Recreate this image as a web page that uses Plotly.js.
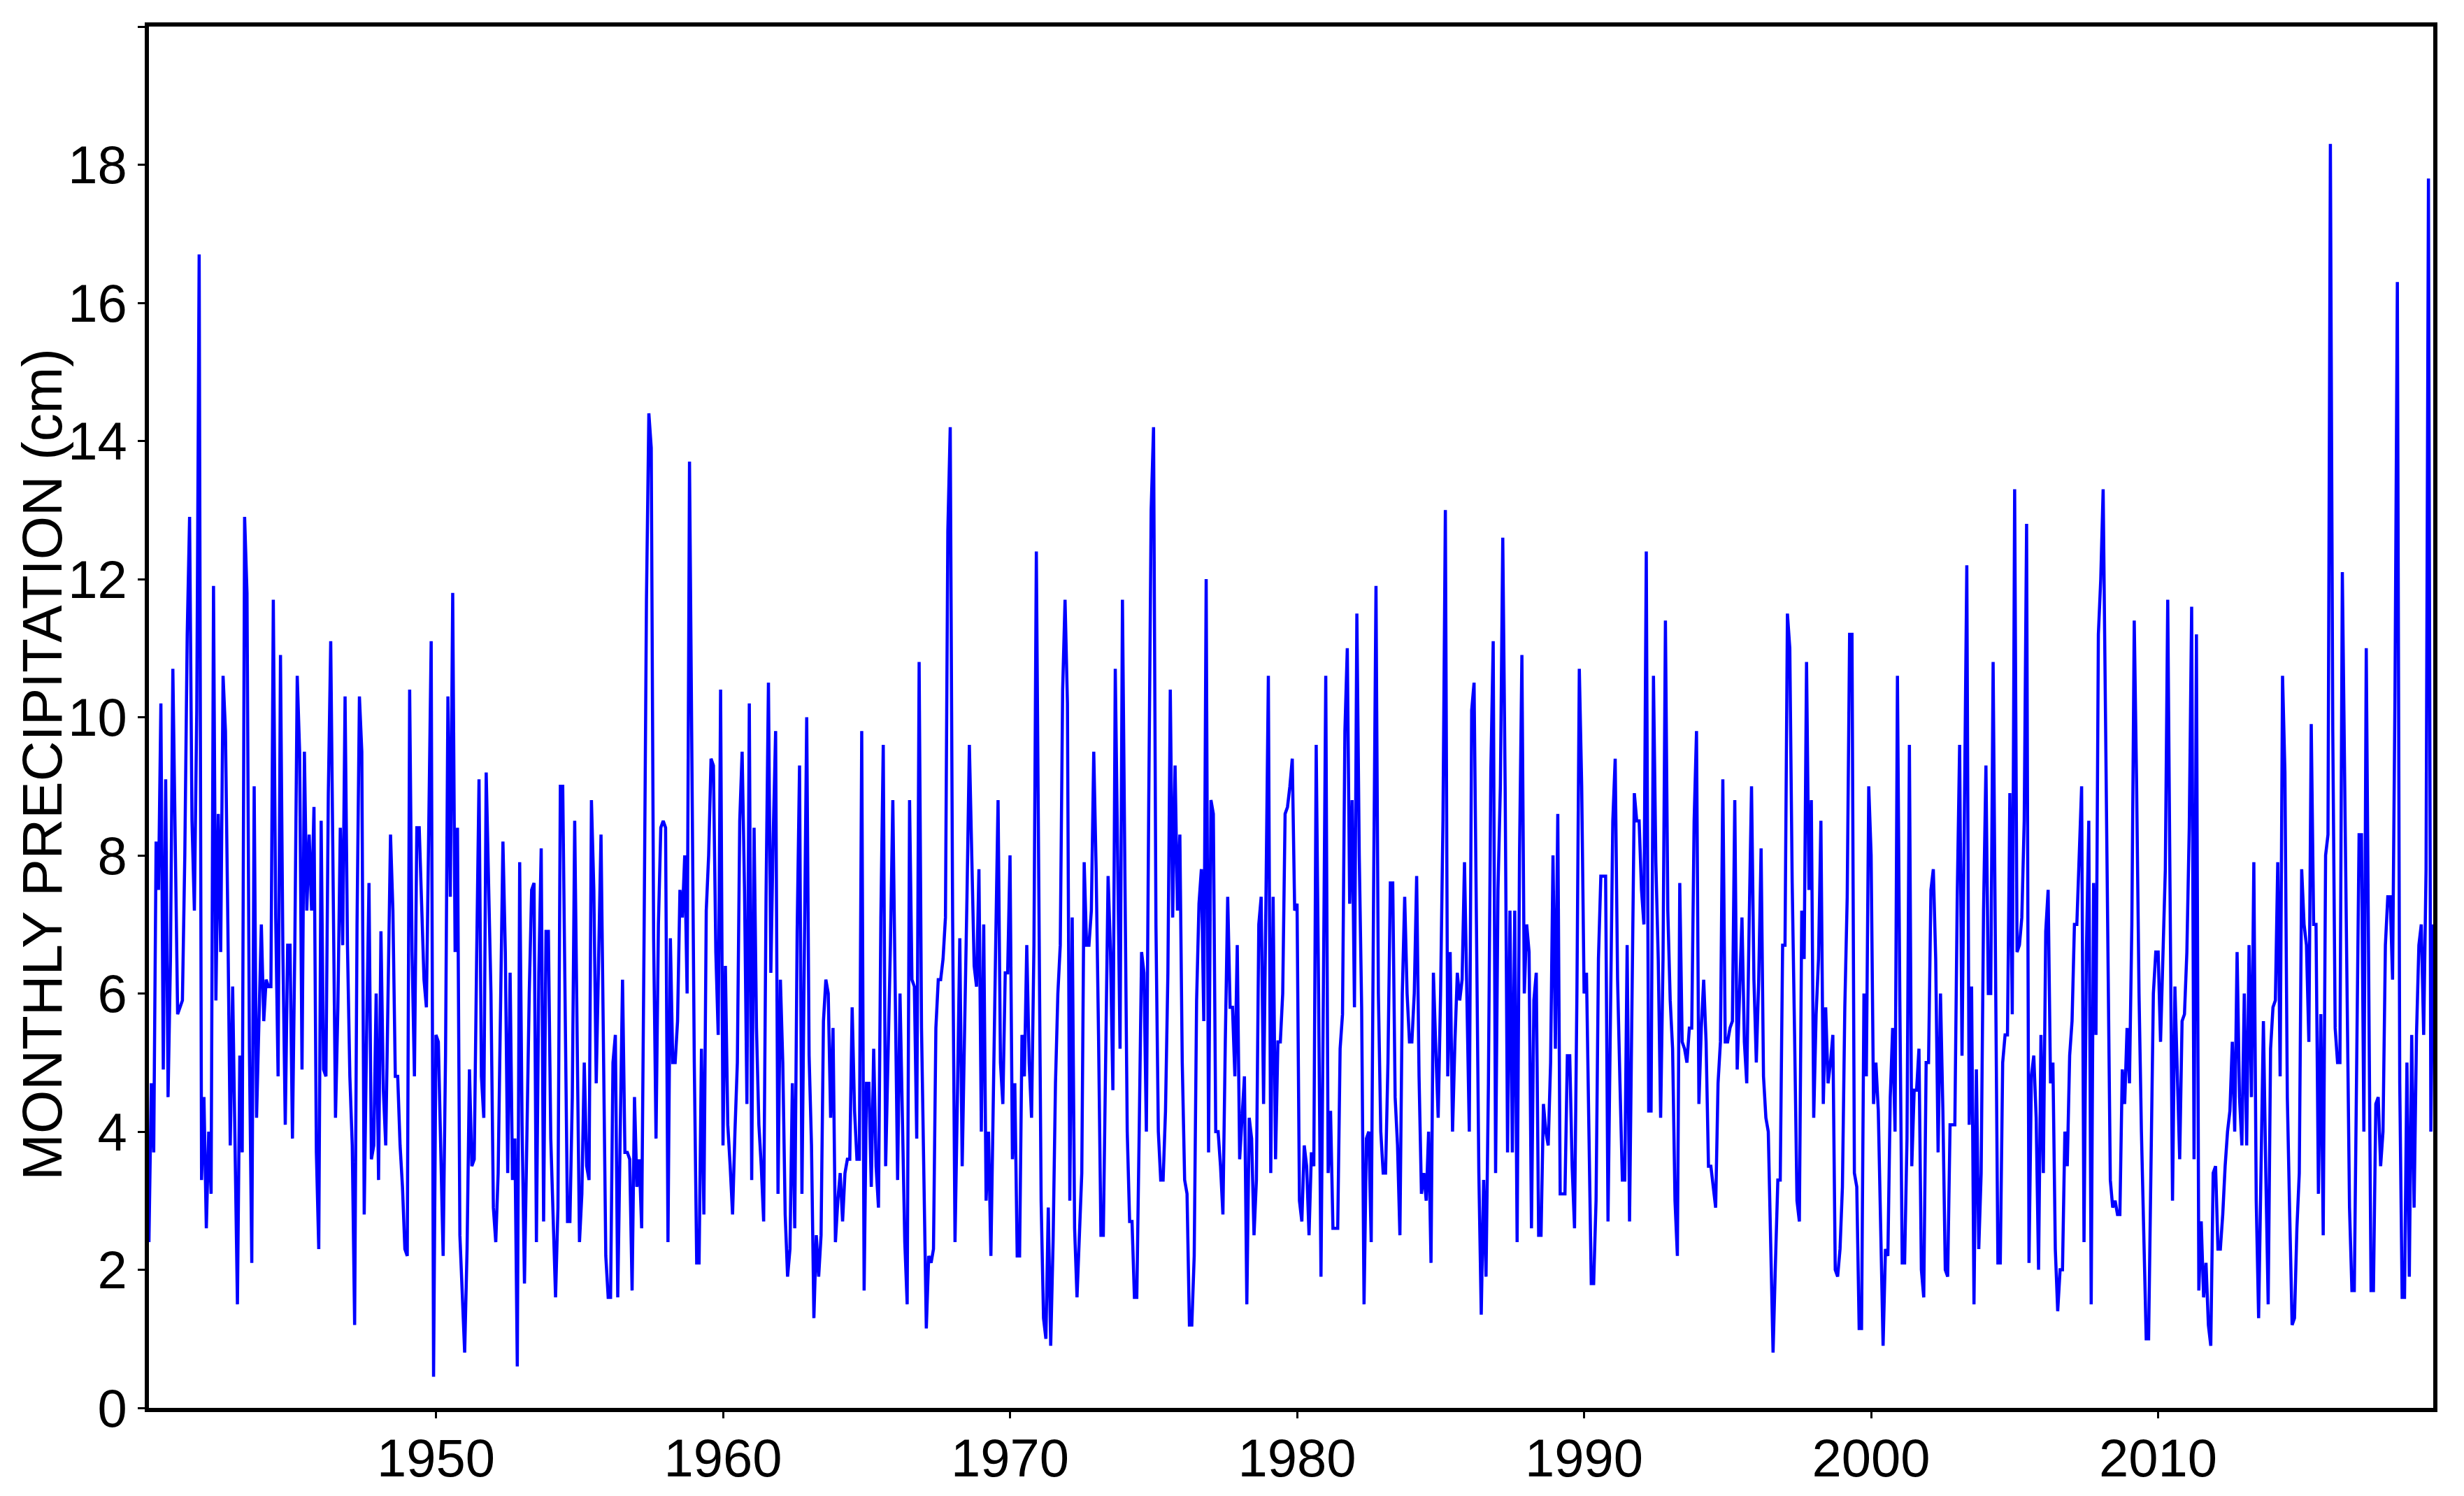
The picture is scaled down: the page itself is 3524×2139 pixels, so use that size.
<!DOCTYPE html>
<html>
<head>
<meta charset="utf-8">
<script src="https://cdn.plot.ly/plotly-3.0.1.min.js"></script>
<style>html,body{margin:0;padding:0;background:#fff;}#chart{width:3524px;height:2139px;}</style>
</head>
<body>
<div id="chart"></div>
<script>
// Monthly precipitation (cm), January 1940 onward, one value per month
const startYear = 1940;
const p1940s = [2.4,4.7,3.7,8.2,7.5,10.2,4.9,9.1,4.5,6.5,10.7,8.5,
5.7,5.8,5.9,8.0,11.2,12.9,8.5,7.2,10.1,16.7,3.3,4.5,
2.6,4.0,3.1,11.9,5.9,8.6,6.6,10.6,9.8,7.0,3.8,6.1,
3.8,1.5,5.1,3.7,12.9,11.8,5.2,2.1,9.0,4.2,5.6,7.0,
5.6,6.2,6.1,6.1,11.7,7.1,4.8,10.9,6.6,4.1,6.7,6.7,
3.9,6.7,10.6,9.5,4.9,9.5,7.2,8.3,7.2,8.7,3.7,2.3,
8.5,4.9,4.8,8.9,11.1,7.0,4.2,5.8,8.4,6.7,10.3,6.7,
4.8,3.8,1.2,7.0,10.3,9.5,2.8,5.4,7.6,3.6,3.8,6.0,
3.3,6.9,4.6,3.8,6.2,8.3,7.2,4.8,4.8,3.8,3.2,2.3,
2.2,10.4,6.6,4.8,8.4,8.4,7.3,6.2,5.8,8.5,11.1,0.45];
const p1950s = [5.4,5.3,3.5,2.2,5.1,10.3,7.4,11.8,6.6,8.4,2.5,1.6,
0.8,2.3,4.9,3.5,3.6,6.5,9.1,4.8,4.2,9.2,7.4,6.0,
2.9,2.4,3.4,5.5,8.2,6.6,3.4,6.3,3.3,3.9,0.6,7.9,
4.1,1.8,4.0,6.0,7.5,7.6,2.4,6.3,8.1,2.7,6.9,6.9,
3.9,2.9,1.6,2.9,9.0,9.0,5.6,2.7,2.7,4.5,8.5,5.5,
2.4,3.1,5.0,3.5,3.3,8.8,7.5,4.7,6.8,8.3,5.3,2.2,
1.6,1.6,5.0,5.4,1.6,4.0,6.2,3.7,3.7,3.6,1.7,4.5,
3.2,3.6,2.6,6.8,11.7,14.4,13.9,6.8,3.9,7.0,8.4,8.5,
8.4,2.4,6.8,5.0,5.0,5.6,7.5,7.1,8.0,6.0,13.7,9.4,
5.0,2.1,2.1,5.2,2.8,7.2,8.0,9.4,9.3,6.6,5.4,10.4];
const p1960s = [3.8,6.4,4.1,3.5,2.8,4.0,5.0,8.5,9.5,7.5,4.4,10.2,
3.3,8.4,5.5,4.1,3.5,2.7,7.4,10.5,6.3,8.3,9.8,3.1,
6.2,5.0,2.8,1.9,2.3,4.7,2.6,6.9,9.3,3.1,6.7,10.0,
5.1,3.8,1.3,2.5,1.9,2.5,5.6,6.2,6.0,4.2,5.5,2.4,
3.0,3.4,2.7,3.4,3.6,3.6,5.8,4.3,3.6,3.6,9.8,1.7,
4.7,4.7,3.2,5.2,3.5,2.9,7.1,9.6,3.5,5.0,6.7,8.8,
6.0,3.3,6.0,4.3,2.4,1.5,8.8,6.2,6.1,3.9,10.8,5.5,
3.0,1.15,2.2,2.1,2.3,5.5,6.2,6.2,6.5,7.1,12.7,14.2,
7.1,2.4,4.5,6.8,3.5,5.3,7.4,9.6,8.0,6.4,6.1,7.8,
4.0,7.0,3.0,4.0,2.2,4.7,6.7,8.8,5.0,4.4,6.3,6.3];
const p1970s = [8.0,3.6,4.7,2.2,2.2,5.4,4.8,6.7,5.0,4.2,6.7,12.4,
7.2,3.0,1.3,1.0,2.9,0.9,2.4,4.7,6.0,6.7,10.4,11.7,
10.2,3.0,7.1,2.6,1.6,2.5,3.4,7.9,6.7,6.7,7.2,9.5,
7.8,5.4,2.5,2.5,5.4,7.7,6.6,4.6,10.7,8.0,5.2,11.7,
8.0,4.0,2.7,2.7,1.6,1.6,4.0,6.6,6.3,4.0,8.8,13.0,
14.2,7.0,4.0,3.3,3.3,4.3,6.3,10.4,7.1,9.3,7.2,8.3,
5.0,3.3,3.1,1.2,1.2,2.2,5.9,7.3,7.8,5.6,12.0,3.7,
8.8,8.6,4.0,4.0,3.5,2.8,5.3,7.4,5.8,5.8,4.8,6.7,
3.6,4.3,4.8,1.5,4.2,3.9,2.5,3.3,7.0,7.4,4.4,7.4,
10.6,3.4,7.4,3.6,5.3,5.3,6.0,8.6,8.7,9.0,9.4,7.2];
const p1980s = [7.3,3.0,2.7,3.8,3.5,2.5,3.7,3.5,9.6,6.0,1.9,6.0,
10.6,3.4,4.3,2.6,2.6,2.6,5.2,5.7,9.8,11.0,7.3,8.8,
5.8,11.5,8.0,5.8,1.5,3.9,4.0,2.4,7.5,11.9,6.0,4.0,
3.4,3.4,5.0,7.6,7.6,4.5,3.8,2.5,6.0,7.4,6.0,5.3,
5.3,6.0,7.7,4.8,3.1,3.4,3.0,4.0,2.1,6.3,5.2,4.2,
6.0,8.5,13.0,4.8,6.6,4.0,5.3,6.3,5.9,6.2,7.9,6.0,
4.0,10.1,10.5,7.0,3.4,1.35,3.3,1.9,4.7,9.2,11.1,3.4,
7.5,9.0,12.6,9.0,3.7,7.2,3.7,7.2,2.4,8.0,10.9,6.0,
7.0,6.6,2.6,5.9,6.3,2.5,2.5,4.4,4.0,3.8,5.0,8.0,
5.2,8.6,3.1,3.1,3.1,5.1,5.1,3.5,2.6,6.0,10.7,9.0];
const p1990s = [6.0,6.3,4.0,1.8,1.8,3.0,6.5,7.7,7.7,7.7,2.7,5.5,
8.5,9.4,6.2,4.7,3.3,3.3,6.7,2.7,5.5,8.9,8.5,8.5,
7.5,7.0,12.4,4.3,4.3,10.6,7.9,6.5,4.2,6.5,11.4,7.2,
5.9,5.2,3.0,2.2,7.6,5.3,5.2,5.0,5.5,5.5,8.5,9.8,
4.4,5.5,6.2,5.3,3.5,3.5,3.2,2.9,4.7,5.3,9.1,5.3,
5.3,5.5,5.6,8.8,4.9,6.2,7.1,5.3,4.7,7.0,9.0,6.2,
5.0,6.2,8.1,4.8,4.2,4.0,2.2,0.8,2.1,3.3,3.3,6.7,
6.7,11.5,11.0,7.6,5.4,3.0,2.7,7.2,6.5,10.8,7.5,8.8,
4.2,5.7,6.5,8.5,4.4,5.8,4.7,5.0,5.4,2.0,1.9,2.3,
3.2,5.8,7.4,11.2,11.2,3.4,3.2,1.15,1.15,6.0,4.8,9.0];
const p2000s = [8.0,4.4,5.0,4.3,2.6,0.9,2.3,2.2,4.5,5.5,4.0,10.6,
5.9,2.1,2.1,3.9,9.6,3.5,4.6,4.6,5.2,2.0,1.6,5.0,
5.0,7.5,7.8,6.5,3.7,6.0,4.3,2.0,1.9,4.1,4.1,4.1,
7.4,9.6,5.1,8.3,12.2,4.1,6.1,1.5,4.9,2.3,3.4,7.2,
9.3,6.0,6.0,10.8,7.0,2.1,2.1,5.0,5.4,5.4,8.9,5.7,
13.3,6.6,6.7,7.1,8.5,12.8,2.1,4.8,5.1,4.2,2.0,5.4,
3.4,6.9,7.5,4.7,5.0,2.3,1.4,2.0,2.0,4.0,3.5,5.1,
5.6,7.0,7.0,8.0,9.0,2.4,6.6,8.5,1.5,7.6,5.4,11.2,
12.0,13.3,10.0,6.9,3.3,2.9,3.0,2.8,2.8,4.9,4.4,5.5,
4.7,7.0,11.4,9.0,6.0,4.0,2.4,1.0,1.0,3.5,6.0,6.6];
const p2010s = [6.6,5.3,6.7,7.8,11.7,7.0,3.0,6.1,4.9,3.6,5.6,5.7,
6.6,8.4,11.6,3.6,11.2,1.7,2.7,1.6,2.1,1.2,0.9,3.4,
3.5,2.3,2.3,2.8,3.5,4.0,4.3,5.3,4.0,6.6,4.5,3.8,
6.0,3.8,6.7,4.5,7.9,3.0,1.3,3.6,5.6,3.4,1.5,5.2,
5.8,5.9,7.9,4.8,10.6,9.2,4.5,2.8,1.2,1.3,2.6,3.4,
7.8,7.0,6.7,5.3,9.9,7.0,7.0,3.1,5.7,2.5,8.0,8.3,
18.3,9.8,5.5,5.0,5.0,12.1,9.3,6.0,2.9,1.7,1.7,5.0,
8.3,8.3,4.0,11.0,6.6,1.7,1.7,4.4,4.5,3.5,4.0,6.7,
7.4,7.4,6.2,10.3,16.3,4.7,1.6,1.6,5.0,1.9,5.4,2.9,
5.4,6.7,7.0,5.4,7.8,17.8,4.0,7.0];

const xTickYears = [1950, 1960, 1970, 1980, 1990, 2000, 2010];
const yTickValues = [0, 2, 4, 6, 8, 10, 12, 14, 16, 18, 20];
const yTickLabels = ['0', '2', '4', '6', '8', '10', '12', '14', '16', '18', ''];
const yTitle = 'MONTHLY PRECIPITATION (cm)';

const precip = [].concat(p1940s, p1950s, p1960s, p1970s, p1980s, p1990s, p2000s, p2010s);
const years = precip.map((v, i) => startYear + i / 12);

const font = 'Liberation Sans, Arial, Helvetica, sans-serif';

const trace = {
  x: years,
  y: precip,
  type: 'scatter',
  mode: 'lines',
  line: {color: '#0000FF', width: 4.5},
  hoverinfo: 'skip'
};

const axisCommon = {
  showline: true, linecolor: '#000', linewidth: 6, mirror: true,
  showgrid: false, zeroline: false,
  ticks: 'outside', ticklen: 10, tickwidth: 3, tickcolor: '#000',
  tickfont: {family: font, size: 76, color: '#000'}
};

const layout = {
  width: 3524, height: 2139,
  margin: {l: 213, r: 44, t: 38, b: 126, pad: 0},
  paper_bgcolor: '#fff', plot_bgcolor: '#fff',
  showlegend: false,
  xaxis: Object.assign({}, axisCommon, {
    range: [startYear, years[years.length - 1]],
    tickmode: 'array', tickvals: xTickYears, ticktext: xTickYears.map(String),
    ticklen: 9,
    ticklabelstandoff: -8
  }),
  yaxis: Object.assign({}, axisCommon, {
    range: [0, 20],
    tickmode: 'array', tickvals: yTickValues, ticktext: yTickLabels,
    ticklabelstandoff: 0
  }),
  annotations: [{
    text: yTitle, textangle: -90, showarrow: false,
    xref: 'paper', yref: 'paper', x: -0.0465, y: 0.466,
    xanchor: 'center', yanchor: 'middle',
    font: {family: font, size: 80, color: '#000'}
  }]
};

Plotly.newPlot('chart', [trace], layout, {displayModeBar: false, staticPlot: true});
</script>
</body>
</html>
